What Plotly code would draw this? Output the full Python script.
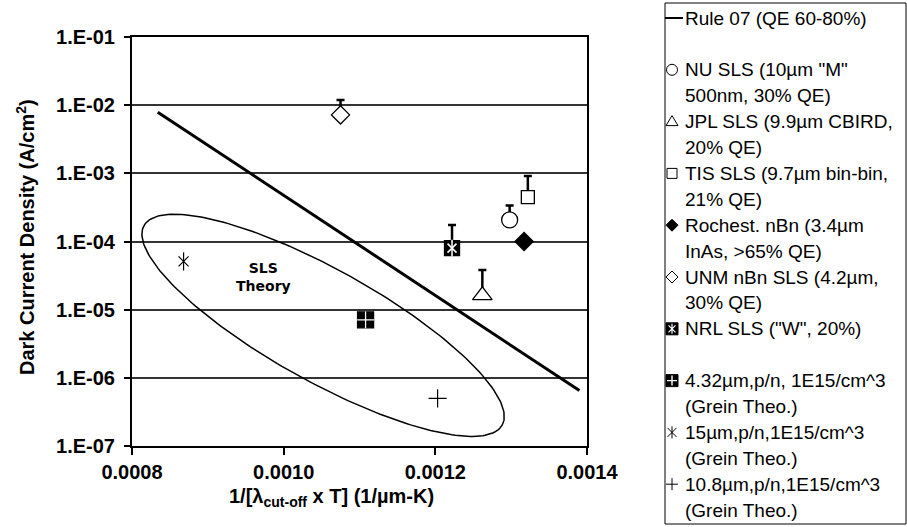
import math
import plotly.graph_objects as go

# ---------------- data ----------------
RULE07_X = [0.000834, 0.00139]
RULE07_Y = [7.9e-3, 6.5e-7]

NU_X = [0.001298]
NU_Y = [2.07e-4]
NU_ERR = [1.3e-4]

JPL_X = [0.001262]
JPL_Y = [1.62e-5]
JPL_ERR = [2.2e-5]

TIS_X = [0.001322]
TIS_Y = [4.47e-4]
TIS_ERR = [4.7e-4]

ROCH_X = [0.001317]
ROCH_Y = [1.0e-4]

UNM_X = [0.001075]
UNM_Y = [7.2e-3]
UNM_ERR = [4.7e-3]

NRL_X = [0.001222]
NRL_Y = [8.0e-5]
NRL_ERR = [9.5e-5]

G432_X = [0.001108]
G432_Y = [7.1e-6]

G15_X = [0.000868]
G15_Y = [5.1e-5]

G108_X = [0.001203]
G108_Y = [5.0e-7]

X_TICKS = [0.0008, 0.0010, 0.0012, 0.0014]
X_TICK_LABELS = ["0.0008", "0.0010", "0.0012", "0.0014"]
Y_TICKS = [1e-7, 1e-6, 1e-5, 1e-4, 1e-3, 1e-2, 1e-1]
Y_TICK_LABELS = ["1.E-07", "1.E-06", "1.E-05", "1.E-04", "1.E-03", "1.E-02", "1.E-01"]

LEGEND_ENTRIES = [
    ["Rule 07 (QE 60-80%)"],
    ["NU SLS (10µm \"M\"", "500nm, 30% QE)"],
    ["JPL SLS (9.9µm CBIRD,", "20% QE)"],
    ["TIS SLS (9.7µm bin-bin,", "21% QE)"],
    ["Rochest. nBn (3.4µm", "InAs, >65% QE)"],
    ["UNM nBn SLS (4.2µm,", "30% QE)"],
    ["NRL SLS (\"W\", 20%)"],
    ["4.32µm,p/n, 1E15/cm^3", "(Grein Theo.)"],
    ["15µm,p/n,1E15/cm^3", "(Grein Theo.)"],
    ["10.8µm,p/n,1E15/cm^3", "(Grein Theo.)"],
]
LEGEND_ROWS = [0, 2, 4, 6, 8, 10, 12, 14, 16, 18]

# ---------------- layout geometry (screen pixels) ----------------
FW, FH = 907, 527
PL, PR, PT, PB = 132, 587, 37, 446
X_RANGE = [0.0008, 0.0014]
Y_RANGE = [-7, -1]
FONT = "Liberation Sans, Arial, sans-serif"

LG_X0, LG_X1, LG_Y0, LG_Y1 = 665, 906, 3, 524
LG_SYM_X = 672
LG_TXT_X = 683
LG_ROW0 = 18
LG_PITCH = 25.9

ELL_CX, ELL_CLOGY = 0.001052, -5.23
ELL_A, ELL_B, ELL_ANG = 205.0, 56.0, 29.1

xs_per_px = (X_RANGE[1] - X_RANGE[0]) / (PR - PL)
dec_per_px = (Y_RANGE[1] - Y_RANGE[0]) / (PB - PT)


def pxp(px):
    return px / FW


def pyp(py):
    return 1 - py / FH


fig = go.Figure()

# ellipse outline around the theory points
th = math.radians(ELL_ANG)
ex, ey = [], []
for i in range(241):
    t = 2 * math.pi * i / 240
    dx = ELL_A * math.cos(th) * math.cos(t) - ELL_B * math.sin(th) * math.sin(t)
    dy = ELL_A * math.sin(th) * math.cos(t) + ELL_B * math.cos(th) * math.sin(t)
    ex.append(ELL_CX + dx * xs_per_px)
    ey.append(10 ** (ELL_CLOGY - dy * dec_per_px))
fig.add_trace(go.Scatter(x=ex, y=ey, mode="lines", line=dict(color="black", width=1.5),
                         hoverinfo="skip", showlegend=False))

fig.add_trace(go.Scatter(x=RULE07_X, y=RULE07_Y, mode="lines", name="Rule 07",
                         line=dict(color="black", width=3), showlegend=False))


def err(vals):
    return dict(type="data", symmetric=False, array=vals, arrayminus=[0] * len(vals),
                color="black", thickness=2.5, width=4, visible=True)


def pts(x, y, symbol, size, fill="white", lw=1.3, lc="black", e=None, name=""):
    kw = dict(x=x, y=y, mode="markers", name=name, showlegend=False,
              marker=dict(symbol=symbol, size=size, color=fill, line=dict(color=lc, width=lw)))
    if e is not None:
        kw["error_y"] = e
    fig.add_trace(go.Scatter(**kw))


pts(NU_X, NU_Y, "circle", 16, e=err(NU_ERR), name="NU SLS")
pts(JPL_X, JPL_Y, "triangle-up", 17, e=err(JPL_ERR), name="JPL SLS")
pts(TIS_X, TIS_Y, "square", 13, e=err(TIS_ERR), name="TIS SLS")
pts(ROCH_X, ROCH_Y, "diamond", 14, fill="black", name="Rochest. nBn")
pts(UNM_X, UNM_Y, "diamond", 14, e=err(UNM_ERR), name="UNM nBn SLS")
pts(NRL_X, NRL_Y, "square", 15, fill="black", e=err(NRL_ERR), name="NRL SLS")
pts(NRL_X, NRL_Y, "x-thin-open", 9, fill="white", lc="white", lw=1.5, name="NRL SLS")
pts(NRL_X, NRL_Y, "line-ns-open", 12, fill="white", lc="white", lw=1.5, name="NRL SLS")
pts(G432_X, G432_Y, "square", 16, fill="black", name="4.32µm")
pts(G432_X, G432_Y, "cross-thin-open", 12, fill="white", lc="white", lw=1.3, name="4.32µm")
pts(G15_X, G15_Y, "x-thin-open", 10, fill="black", lw=1.2, name="15µm")
pts(G15_X, G15_Y, "line-ns-open", 13, fill="black", lw=1.2, name="15µm")
pts(G108_X, G108_Y, "cross-thin-open", 13, fill="black", lw=1.2, name="10.8µm")

# ---------------- manual legend (text + pixel-sized shape swatches) ----------------
P_TRI = "M-6,-4 L6,-4 L0,6 Z"
P_DIA = "M0,6 L6,0 L0,-6 L-6,0 Z"
P_PLUS = "M-6,0 L6,0 M0,-6 L0,6"
P_STAR = "M-4.5,-4.5 L4.5,4.5 M-4.5,4.5 L4.5,-4.5 M0,-6 L0,6"
P_STAR_S = "M-3.5,-3.5 L3.5,3.5 M-3.5,3.5 L3.5,-3.5 M0,-5 L0,5"
P_PLUS_S = "M-5,0 L5,0 M0,-5 L0,5"

LEG_SYMBOLS = [
    [("hline", None, None, "black", 2)],
    [("circle", 5.5, "white", "black", 1)],
    [("path", P_TRI, "white", "black", 1)],
    [("rect", 5, "white", "black", 1)],
    [("path", P_DIA, "black", "black", 1)],
    [("path", P_DIA, "white", "black", 1)],
    [("rect", 6, "black", "black", 1), ("path", P_STAR_S, None, "white", 1.2)],
    [("rect", 6, "black", "black", 1), ("path", P_PLUS_S, None, "white", 1.4)],
    [("path", P_STAR, None, "black", 1)],
    [("path", P_PLUS, None, "black", 1)],
]

annotations = []
shapes = [dict(type="rect", xref="paper", yref="paper",
               x0=pxp(LG_X0), x1=pxp(LG_X1), y0=pyp(LG_Y1), y1=pyp(LG_Y0),
               line=dict(color="black", width=1), fillcolor="rgba(0,0,0,0)")]

for entry, row, syms in zip(LEGEND_ENTRIES, LEGEND_ROWS, LEG_SYMBOLS):
    yc = LG_ROW0 + row * LG_PITCH
    for k, line in enumerate(entry):
        annotations.append(dict(x=pxp(LG_TXT_X), y=pyp(yc + k * LG_PITCH),
                                xref="paper", yref="paper", xanchor="left", yanchor="middle",
                                text=line, showarrow=False,
                                font=dict(family=FONT, size=19, color="black")))
    for (kind, spec, fc, lc, lw) in syms:
        if kind == "hline":
            shapes.append(dict(type="line", xref="paper", yref="paper",
                               x0=pxp(LG_X0), x1=pxp(LG_TXT_X), y0=pyp(yc), y1=pyp(yc),
                               line=dict(color=lc, width=lw)))
            continue
        s = dict(xref="paper", yref="paper", xsizemode="pixel", ysizemode="pixel",
                 xanchor=pxp(LG_SYM_X), yanchor=pyp(yc), line=dict(color=lc, width=lw),
                 fillcolor=fc if fc else "rgba(0,0,0,0)", layer="above")
        if kind == "path":
            s.update(type="path", path=spec)
        else:
            s.update(type=kind, x0=-spec, x1=spec, y0=-spec, y1=spec)
        shapes.append(s)

annotations.append(dict(x=0.000973, y=-4.515, xref="x", yref="y", text="<b>SLS<br>Theory</b>",
                        xanchor="center", yanchor="middle", showarrow=False,
                        font=dict(family="DejaVu Sans", size=14, color="black")))
annotations.append(dict(x=pxp(331), y=pyp(497), xref="paper", yref="paper",
                        xanchor="center", yanchor="middle",
                        text="<b>1/[λ<sub>cut-off</sub> x T] (1/µm-K)</b>", showarrow=False,
                        font=dict(family=FONT, size=20, color="black")))
annotations.append(dict(x=pxp(25), y=pyp(237), xref="paper", yref="paper",
                        xanchor="center", yanchor="middle",
                        text="<b>Dark Current Density (A/cm<sup>2</sup>)</b>", showarrow=False,
                        textangle=-90, font=dict(family=FONT, size=20, color="black")))

fig.update_layout(
    width=FW, height=FH, margin=dict(l=0, r=0, t=0, b=0, autoexpand=False),
    paper_bgcolor="white", plot_bgcolor="white", showlegend=False,
    font=dict(family=FONT, color="black"),
    xaxis=dict(domain=[pxp(PL), pxp(PR)], range=X_RANGE, tickvals=X_TICKS,
               ticktext=["<b>%s</b>" % t for t in X_TICK_LABELS],
               showgrid=False, zeroline=False, showline=True, linecolor="black", linewidth=2,
               mirror=True, ticks="outside", ticklen=7, tickwidth=2, tickcolor="black",
               tickfont=dict(family=FONT, size=20, color="black"), automargin=False),
    yaxis=dict(domain=[pyp(PB), pyp(PT)], type="log", range=Y_RANGE,
               tickvals=Y_TICKS, ticktext=["<b>%s</b>" % t for t in Y_TICK_LABELS],
               showgrid=True, gridcolor="#333",
               gridwidth=2, zeroline=False, showline=True, linecolor="black", linewidth=2,
               mirror=True, ticks="outside", ticklen=6, tickwidth=2, tickcolor="black",
               ticklabelstandoff=5,
               tickfont=dict(family=FONT, size=20, color="black"), automargin=False),
    annotations=annotations, shapes=shapes,
)

# place the figure at the page origin (no default body margin / scrollbars), no modebar
fig.write_html("out.html", config={"displayModeBar": False},
               post_script="document.body.style.margin='0';document.body.style.overflow='hidden';")
